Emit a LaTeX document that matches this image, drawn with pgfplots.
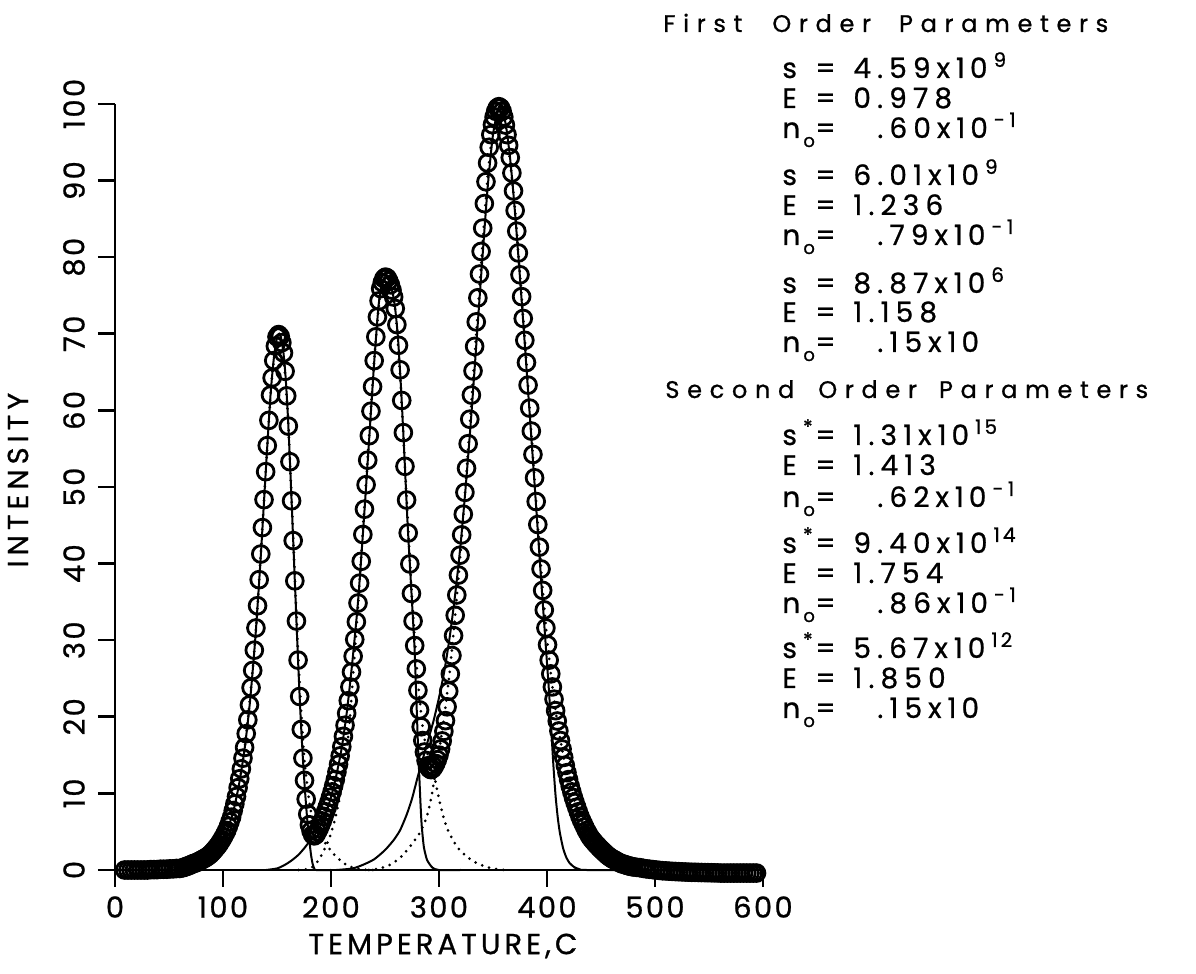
\documentclass[border=0pt]{standalone}
\usepackage{pgfplots}
\pgfplotsset{compat=1.18}
\usepackage{fontspec}
\setmainfont{Poppins}
\newfontfamily\tickfont[LetterSpace=8,FakeBold=0.8]{Poppins}
\newfontfamily\labfont[LetterSpace=14,FakeBold=0.8]{Poppins}
\newfontfamily\ylabfont[LetterSpace=17,FakeBold=0.8]{Poppins}
\newfontfamily\headfont[LetterSpace=32,FakeBold=0.8]{Poppins}
\newfontfamily\parfont[LetterSpace=22,FakeBold=0.8]{Poppins}
\newcommand{\expo}[1]{\kern3pt\raisebox{5.5pt}{\fontsize{10}{10}\selectfont #1}}
\newcommand{\X}{\kern3pt x\kern3pt 1\kern2.5pt 0}
\begin{document}
\begin{tikzpicture}
\useasboundingbox (-57.5pt,-52pt) rectangle (540.5pt,435pt);
\begin{axis}[
  scale only axis, width=324pt, height=383pt,
  xmin=0, xmax=600, ymin=0, ymax=100,
  axis lines=left, axis line style={-, line width=1.3pt},
  xtick={0,100,...,600}, ytick={0,10,...,100},
  tick align=outside, tick pos=left,
  major tick length=8.5pt,
  every tick/.style={line width=1.3pt, black},
  clip=false,
  /pgf/number format/assume math mode=true,
  xticklabel style={font=\tickfont\fontsize{14.5}{14.5}\selectfont, anchor=center, yshift=-10pt},
  yticklabel style={font=\tickfont\fontsize{14.5}{14.5}\selectfont, xshift=-12pt, rotate=90, anchor=center},
  xlabel={TEMPERATURE,C},
  ylabel={INTENSITY},
  xlabel style={font=\labfont\fontsize{14.5}{14.5}\selectfont, at={(axis description cs:0.506,-0.0992)}, anchor=center},
  ylabel style={font=\ylabfont\fontsize{14.5}{14.5}\selectfont, at={(axis description cs:-0.1497,0.509)}, anchor=center, rotate=0},
]
% measured data
\addplot[only marks, mark=o, mark size=4.2pt, mark options={line width=1.4pt, black}] coordinates {
(9,0)(12,0)(15,0)(18,0)(21,0)(24,0)(27,0)(30,0)(33,0.05)(36,0.05)(39,0.05)(42,0.1)(45,0.1)(48,0.1)(51,0.15)(54,0.15)(57,0.2)(60,0.2)(63,0.3)
(64.5,0.38)(66,0.45)(67.5,0.53)(69,0.61)(70.5,0.71)(72,0.8)(73.5,0.88)(75,0.95)(76.5,1.04)(78,1.15)(79.5,1.26)(81,1.38)(82.5,1.49)(84,1.6)(85.5,1.75)(87,1.9)(88.5,2.08)(90,2.3)(91.5,2.53)(93,2.78)(94.5,3.04)(96,3.3)(97.5,3.64)(99,3.98)(100.5,4.34)(102,4.75)(103.5,5.16)(105,5.7)(106.5,6.3)(108,6.9)(109.5,7.76)(111,8.63)(112.5,9.59)(114,10.75)(115.5,11.91)(117,13.2)(118.5,14.6)(120,16.0)(121.5,17.8)(123,19.6)(124.5,21.55)(126,23.8)(127.5,26.05)(129,28.7)(130.5,31.6)(132,34.5)(133.5,37.9)(135,41.25)(136.5,44.7)(138,48.35)(139.5,52.0)(141,55.4)(142.5,58.7)(144,62.0)(145.5,64.25)(147,66.5)(148.5,68.4)(150,69.6)(151.5,69.9)(153,69.65)(154.5,68.85)(156,67.5)(157.5,65.1)(159,61.9)(160.5,57.95)(162,53.3)(163.5,48.2)(165,43.0)(166.5,37.75)(168,32.5)(169.5,27.4)(171,22.65)(172.5,18.35)(174,14.6)(175.5,11.7)(177,9.25)(178.5,7.3)(180,5.9)(181.5,5.1)(183,4.6)(184.5,4.45)(186,4.6)(187.5,5.0)(189,5.4)(190.5,5.9)(192,6.4)(193.5,7.0)(195,7.6)(196.5,8.2)(198,8.8)(199.5,9.5)(201,10.2)(202.5,11.0)(204,11.8)(205.5,12.8)(207,13.8)(208.5,14.9)(210,16.1)(211.5,17.45)(213,18.9)(214.5,20.45)(216,22.1)(217.5,23.9)(219,25.85)(220.5,27.9)(222,30.1)(223.5,32.4)(225,34.85)(226.5,37.45)(228,40.3)(229.5,43.8)(231,47.1)(232.5,50.3)(234,53.5)(235.5,56.7)(237,59.9)(238.5,63.1)(240,66.5)(241.5,69.6)(243,72.2)(244.5,74.3)(246,75.9)(247.5,76.7)(249,77.2)(250.5,77.4)(252,77.3)(253.5,76.9)(255,76.4)(256.5,75.7)(258,74.8)(259.5,73.3)(261,71.2)(262.5,68.5)(264,65.3)(265.5,61.3)(267,57.1)(268.5,52.7)(270,48.3)(271.5,44.0)(273,39.95)(274.5,36.1)(276,32.5)(277.5,29.3)(279,26.25)(280.5,23.45)(282,20.9)(283.5,18.7)(285,16.9)(286.5,15.4)(288,14.3)(289.5,13.6)(291,13.25)(292.5,13.1)(294,13.2)(295.5,13.5)(297,13.9)(298.5,14.4)(300,15.0)(301.5,15.8)(303,16.85)(304.5,18.1)(306,19.5)(307.5,21.3)(309,23.35)(310.5,25.6)(312,28.0)(313.5,30.6)(315,33.25)(316.5,35.9)(318,38.5)(319.5,41.1)(321,43.75)(322.5,46.45)(324,49.3)(325.5,52.45)(327,55.65)(328.5,58.85)(330,62.0)(331.5,65.15)(333,68.35)(334.5,71.55)(336,74.7)(337.5,77.8)(339,80.75)(340.5,83.8)(342,87.0)(343.5,89.85)(345,92.3)(346.5,94.35)(348,96.0)(349.5,97.3)(351,98.3)(352.5,99.05)(354,99.5)(355.5,99.65)(357,99.5)(358.5,99.05)(360,98.3)(361.5,97.25)(363,96.0)(364.5,94.6)(366,93.0)(367.5,91.0)(369,88.65)(370.5,86.1)(372,83.4)(373.5,80.55)(375,77.7)(376.5,74.85)(378,72.0)(379.5,69.15)(381,66.25)(382.5,63.3)(384,60.3)(385.5,57.3)(387,54.25)(388.5,51.2)(390,48.1)(391.5,45.1)(393,42.15)(394.5,39.3)(396,36.5)(397.5,33.95)(399,31.6)(400.5,29.4)(402,27.4)(403.5,25.6)(405,23.9)(406.5,22.3)(408,20.8)(409.5,19.45)(411,18.15)(412.5,16.9)(414,15.8)(415.5,14.7)(417,13.65)(418.5,12.7)(420,11.8)(421.5,10.95)(423,10.2)(424.5,9.45)(426,8.8)(427.5,8.2)(429,7.6)(430.5,7.0)(432,6.5)(433.5,6.05)(435,5.6)(436.5,5.15)(438,4.8)(439.5,4.4)(441,4.1)(442.5,3.85)(444,3.6)(445.5,3.35)(447,3.15)(448.5,2.9)(450,2.7)(451.5,2.5)(453,2.3)(454.5,2.1)(456,1.9)(457.5,1.75)(459,1.6)(460.5,1.45)(462,1.35)(463.5,1.25)(465,1.1)(466.5,1.0)(468,0.9)(469.5,0.8)(471,0.75)(472.5,0.7)(474,0.6)(475.5,0.55)(477,0.5)(478.5,0.45)(480,0.4)
(483,0.35)(486,0.3)(489,0.22)(492,0.15)(495,0.1)(498,0.05)(501,0)(504,-0.05)(507,-0.1)(510,-0.12)(513,-0.15)(516,-0.18)(519,-0.2)(522,-0.22)(525,-0.24)(528,-0.26)(531,-0.28)(534,-0.3)(537,-0.3)(540,-0.32)(543,-0.33)(546,-0.34)(549,-0.35)(552,-0.36)(555,-0.37)(558,-0.38)(561,-0.4)(564,-0.4)(567,-0.4)(570,-0.4)(573,-0.4)(576,-0.4)(579,-0.4)(582,-0.4)(585,-0.4)(588,-0.4)(591,-0.4)(594,-0.4)
};
% first order components (solid)
\addplot[black, line width=1pt, smooth, tension=0.4] coordinates {
(40,0)(60,0.1)(70,0.45)(80,1.2)(90,2.2)(100,4.1)(105,5.6)(110,7.9)(115,11.3)(120,15.8)(125,22)(130,30.4)(135,41)(140,53)(144,62)(147,66.7)(150,69.5)(152,70)(154,69.3)(156,67.5)(158,64.3)(160,59.5)(162,53.3)(164,46.5)(166,39.5)(168,32.5)(170,25.7)(172,19.6)(174,14.5)(176,10.2)(178,6.6)(180,3.8)(181.5,2.0)(183,0.8)(184.5,0.2)(186,0)(200,0)
};
\addplot[black, line width=1pt, smooth, tension=0.4] coordinates {
(140,0)(150,0.2)(155,0.5)(160,0.9)(165,1.4)(170,2.0)(175,2.8)(180,3.7)(185,4.6)(190,5.7)(195,7.3)(200,9.5)(205,12.4)(210,16)(215,21)(220,27.5)(225,35)(230,44.8)(235,55.5)(240,66.3)(244,73.6)(247,76.5)(250,77.4)(253,77.1)(256,76)(259,73.8)(262,69.5)(265,62.5)(268,54)(271,45)(274,37.5)(276,32.5)(277.5,28.5)(279,22.5)(280.5,16.5)(282,11.5)(283,8.3)(284,5.8)(286,3.0)(289,1.3)(294,0.3)(300,0)(320,0)
};
\addplot[black, line width=1pt, smooth, tension=0.4] coordinates {
(205,0)(220,0.2)(230,0.7)(240,1.4)(250,2.6)(258,3.9)(264,5.2)(270,7.2)(275,9.3)(280,12)(285,14.5)(290,17)(295,19.5)(300,22.5)(305,26)(310,30.5)(315,36)(320,42.5)(325,50.5)(330,59.5)(335,69.5)(340,79.5)(345,89)(350,96)(355,99.5)(358,99.5)(362,97.2)(366,92.7)(370,86.5)(374,79.2)(378,71.5)(382,63.5)(386,55.5)(390,47.3)(394,39)(397,33)(400,27)(402,23)(404,18.2)(406,13.5)(408,9.6)(410,6.8)(412,4.8)(415,2.8)(418,1.6)(421,0.9)(425,0.4)(430,0.1)(435,0)(600,0)
};
% second order components (dotted)
\addplot[black, line width=1.5pt, line cap=round, dash pattern=on 0pt off 3.6pt, smooth, tension=0.4] coordinates {
(60,0.1)(80,1.2)(100,4.1)(110,7.9)(120,15.8)(130,30.4)(140,53)(145,63.8)(150,69.5)(152,70)(155,68.6)(160,59.5)(165,43.5)(170,27)(175,15)(180,8.8)(185,5.6)(190,4.3)(196,3.3)(200,2.5)(205,1.7)(210,1.1)(215,0.6)(222,0.25)(230,0.05)(240,0)
};
\addplot[black, line width=1.5pt, line cap=round, dash pattern=on 0pt off 3.6pt, smooth, tension=0.4] coordinates {
(170,0)(178,0.1)(183,0.4)(187,1.0)(191,1.9)(196,3.3)(200,4.8)(204,6.8)(208,9.4)(212,12.8)(216,17.5)(220,24.5)(225,34.5)(230,45.5)(235,56)(240,66.5)(245,74.5)(250,77.4)(255,76.5)(260,72.5)(265,62)(270,48.5)(275,35.5)(280,25.5)(285,18.5)(290,14.8)(293,13.2)(296,12)(300,9.3)(304,7)(308,5.3)(313,3.9)(318,2.8)(326,1.7)(335,0.9)(344,0.4)(356,0.05)(365,0)
};
\addplot[black, line width=1.5pt, line cap=round, dash pattern=on 0pt off 3.6pt, smooth, tension=0.4] coordinates {
(235,0)(245,0.2)(255,0.7)(264,1.6)(270,2.5)(276,3.6)(282,4.8)(287,6.3)(290,7.6)(293,9.6)(296,12)(299,14.6)(302,17.3)(305,20.2)(310,26)(315,33.3)(320,41.5)(325,51)(330,61)(335,71)(340,81)(345,90.5)(350,96.8)(355,99.6)(360,98.4)(365,93.5)(370,86.8)(375,77.7)(380,68.2)(385,58)(390,48)(395,38.5)(400,30.3)(405,23.9)(410,18.9)(415,15)(420,11.8)(425,9.3)(430,7.2)(435,5.6)(440,4.3)(450,2.6)(460,1.5)(470,0.8)(480,0.4)(490,0.2)(500,0.05)(520,0)
};
\end{axis}
% parameter text (pixel p -> ((p-115)/2 pt , (870-q)/2 pt))
\begin{scope}[every node/.style={inner sep=0pt, anchor=base west}]
\node at (274pt,419pt) {\headfont\fontsize{12}{12}\selectfont First\hspace{8pt} Order\hspace{7pt} Parameters};
\node at (275pt,236pt) {\headfont\fontsize{12}{12}\selectfont Second\hspace{5pt} Order\hspace{4pt} Parameters};
\end{scope}
\begin{scope}[every node/.style={inner sep=0pt, anchor=base west, font=\parfont\fontsize{14}{14}\selectfont}]
% group 1
\node at (333.5pt,396pt) {s}; \node at (350pt,396pt) {=}; \node at (369pt,396pt) {4.59\X\expo{9}};
\node at (333.5pt,381pt) {E}; \node at (350pt,381pt) {=}; \node at (369pt,381pt) {0.978};
\node at (333.5pt,366pt) {n}; \node at (344pt,361.5pt) {\fontsize{9}{9}\selectfont o}; \node at (350pt,366pt) {=}; \node at (381pt,366pt) {.60\X\expo{-1}};
\node at (333.5pt,342.5pt) {s}; \node at (350pt,342.5pt) {=}; \node at (369pt,342.5pt) {6.01\X\expo{9}};
\node at (333.5pt,327.5pt) {E}; \node at (350pt,327.5pt) {=}; \node at (369pt,327.5pt) {1.236};
\node at (333.5pt,312.5pt) {n}; \node at (344pt,308pt) {\fontsize{9}{9}\selectfont o}; \node at (350pt,312.5pt) {=}; \node at (381pt,312.5pt) {.79\X\expo{-1}};
\node at (333.5pt,288.5pt) {s}; \node at (350pt,288.5pt) {=}; \node at (369pt,288.5pt) {8.87\X\expo{6}};
\node at (333.5pt,274pt) {E}; \node at (350pt,274pt) {=}; \node at (369pt,274pt) {1.158};
\node at (333.5pt,259pt) {n}; \node at (344pt,254.5pt) {\fontsize{9}{9}\selectfont o}; \node at (350pt,259pt) {=}; \node at (381pt,259pt) {.15\X};
% group 2
\node at (333.5pt,212.5pt) {s\expo{*}}; \node at (350pt,212.5pt) {=}; \node at (369pt,212.5pt) {1.31\X\expo{1\kern1.5pt 5}};
\node at (333.5pt,197.5pt) {E}; \node at (350pt,197.5pt) {=}; \node at (369pt,197.5pt) {1.413};
\node at (333.5pt,181.5pt) {n}; \node at (344pt,177pt) {\fontsize{9}{9}\selectfont o}; \node at (350pt,181.5pt) {=}; \node at (381pt,181.5pt) {.62\X\expo{-1}};
\node at (333.5pt,158.5pt) {s\expo{*}}; \node at (350pt,158.5pt) {=}; \node at (369pt,158.5pt) {9.40\X\expo{1\kern1.5pt 4}};
\node at (333.5pt,143.5pt) {E}; \node at (350pt,143.5pt) {=}; \node at (369pt,143.5pt) {1.754};
\node at (333.5pt,128.5pt) {n}; \node at (344pt,124pt) {\fontsize{9}{9}\selectfont o}; \node at (350pt,128.5pt) {=}; \node at (381pt,128.5pt) {.86\X\expo{-1}};
\node at (333.5pt,106pt) {s\expo{*}}; \node at (350pt,106pt) {=}; \node at (369pt,106pt) {5.67\X\expo{1\kern1.5pt 2}};
\node at (333.5pt,91pt) {E}; \node at (350pt,91pt) {=}; \node at (369pt,91pt) {1.850};
\node at (333.5pt,76pt) {n}; \node at (344pt,71.5pt) {\fontsize{9}{9}\selectfont o}; \node at (350pt,76pt) {=}; \node at (381pt,76pt) {.15\X};
\end{scope}
\end{tikzpicture}
\end{document}
